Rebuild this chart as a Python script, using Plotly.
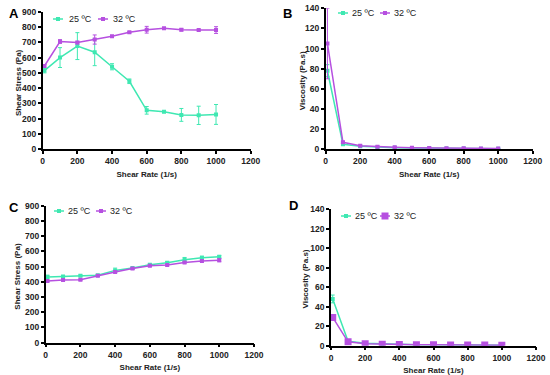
import plotly.graph_objects as go

shear_rate = [10, 100, 200, 300, 400, 500, 600, 700, 800, 900, 1000]

# Panel A: shear stress (Pa)
a_25 = [515, 600, 675, 635, 540, 445, 255, 245, 225, 222, 228]
a_25_err = [15, 65, 88, 88, 20, 15, 25, 5, 42, 60, 65]
a_32 = [545, 705, 698, 718, 740, 765, 782, 792, 782, 780, 780]
a_32_err = [8, 12, 8, 30, 5, 5, 22, 5, 8, 5, 22]

# Panel B: viscosity (Pa.s)
b_25 = [78, 5, 3, 2, 1.5, 1.2, 1.0, 0.8, 0.7, 0.6, 0.5]
b_25_err = [6, 1, 0.5, 0.3, 0.2, 0.1, 0.1, 0.1, 0.1, 0.1, 0.1]
b_32 = [105, 7, 3.5, 2.5, 2, 1.5, 1.3, 1.1, 1.0, 0.9, 0.8]
b_32_err = [35, 1, 0.5, 0.3, 0.2, 0.1, 0.1, 0.1, 0.1, 0.1, 0.1]

# Panel C: shear stress (Pa)
c_25 = [432, 435, 440, 443, 475, 490, 512, 525, 545, 558, 565]
c_25_err = [12, 5, 5, 5, 15, 5, 5, 8, 15, 10, 8]
c_32 = [405, 412, 413, 440, 465, 487, 505, 510, 527, 537, 542]
c_32_err = [5, 5, 5, 5, 5, 5, 5, 5, 5, 5, 10]

# Panel D: viscosity (Pa.s)
d_25 = [48, 4.5, 2.5, 1.8, 1.3, 1.0, 0.9, 0.8, 0.7, 0.6, 0.5]
d_25_err = [4, 0.5, 0.3, 0.2, 0.1, 0.1, 0.1, 0.1, 0.1, 0.1, 0.1]
d_32 = [29, 4, 2, 1.5, 1.2, 1.0, 0.9, 0.8, 0.7, 0.6, 0.5]
d_32_err = [2, 0.5, 0.3, 0.2, 0.1, 0.1, 0.1, 0.1, 0.1, 0.1, 0.1]

series_names = ["25 ºC", "32 ºC"]
panel_labels = ["A", "B", "C", "D"]
x_title = "Shear Rate (1/s)"
y_titles = ["Shear Stress (Pa)", "Viscosity (Pa.s)", "Shear Stress (Pa)", "Viscosity (Pa.s)"]

GREEN = "#3FE8B2"
PURPLE = "#B650E0"
FONT = "Liberation Sans, Arial, sans-serif"
W, H = 550, 375
OFF = 0  # body margin removed by post_script


def px(x):
    return (x - OFF) / W


def py(y):
    return 1 - (y - OFF) / H


panels = [
    (a_25, a_25_err, a_32, a_32_err, "x", "y", 4, 4),
    (b_25, b_25_err, b_32, b_32_err, "x2", "y2", 4, 4),
    (c_25, c_25_err, c_32, c_32_err, "x3", "y3", 4, 4),
    (d_25, d_25_err, d_32, d_32_err, "x4", "y4", 4, 7),
]

fig = go.Figure()
for (s25, e25, s32, e32, xa, ya, m25, m32) in panels:
    fig.add_trace(go.Scatter(
        x=shear_rate, y=s25, name=series_names[0], mode="lines+markers",
        line=dict(color=GREEN, width=1.5),
        marker=dict(symbol="square", size=m25, color=GREEN),
        error_y=dict(type="data", array=e25, color=GREEN, thickness=1, width=2),
        xaxis=xa, yaxis=ya, showlegend=False))
    fig.add_trace(go.Scatter(
        x=shear_rate, y=s32, name=series_names[1], mode="lines+markers",
        line=dict(color=PURPLE, width=1.5),
        marker=dict(symbol="square", size=m32, color=PURPLE),
        error_y=dict(type="data", array=e32, color=PURPLE, thickness=1, width=2),
        xaxis=xa, yaxis=ya, showlegend=False))

axis_common = dict(
    showline=True, linecolor="black", linewidth=1.5, ticks="outside",
    ticklen=3, tickwidth=1.5, tickcolor="black", showgrid=False, zeroline=False,
    automargin=False,
    tickfont=dict(family=FONT, size=8.5, color="#222", weight="bold"),
    title_font=dict(family=FONT, size=8, color="#222", weight="bold"),
)

# plot-area corners in page pixels: (x0, x1, ytop, ybottom)
areas = [(42.7, 250.7, 11.7, 149.3), (325.7, 532.7, 8.3, 149.3),
         (45.7, 254.0, 205.7, 342.7), (331.0, 536.0, 209.3, 345.7)]
yranges = [[0, 900], [0, 140], [0, 900], [0, 140]]
ydtick = [100, 20, 100, 20]
ytitle_x = [18.5, 302.5, 17.5, 305]

layout = dict(
    width=W, height=H, margin=dict(l=0, r=0, t=0, b=0),
    plot_bgcolor="white", paper_bgcolor="white",
    font=dict(family=FONT, color="#222"), showlegend=False,
)
for i, (x0, x1, yt, yb) in enumerate(areas):
    sfx = "" if i == 0 else str(i + 1)
    layout["xaxis" + sfx] = dict(
        axis_common, domain=[px(x0), px(x1)], range=[0, 1200], dtick=200,
        anchor="y" + sfx, title=dict(text=x_title, standoff=6))
    layout["yaxis" + sfx] = dict(
        axis_common, domain=[py(yb), py(yt)], range=yranges[i], dtick=ydtick[i],
        anchor="x" + sfx)
fig.update_layout(**layout)

for i, (x0, x1, yt, yb) in enumerate(areas):
    fig.add_annotation(text=y_titles[i], x=px(ytitle_x[i]), y=py((yt + yb) / 2 + 2),
                       xref="paper", yref="paper", showarrow=False, textangle=-90,
                       xanchor="center", yanchor="middle",
                       font=dict(family=FONT, size=8, color="#222", weight="bold"))

# manual compact legends (page pixel positions)
legend_pos = [
    (19, [(58, 67), (103, 111)], (4, 4)),
    (13, [(343, 350), (385, 392)], (4, 4)),
    (211, [(59, 66), (101, 108)], (4, 4)),
    (216, [(346, 353), (385, 392)], (4, 7)),
]
shapes = []
for (ly, items, msz) in legend_pos:
    for (cx, tx), col, name, ms in zip(items, [GREEN, PURPLE], series_names, msz):
        shapes.append(dict(type="line", xref="paper", yref="paper",
                           x0=px(cx - 5), x1=px(cx + 5), y0=py(ly), y1=py(ly),
                           line=dict(color=col, width=1.5)))
        shapes.append(dict(type="rect", xref="paper", yref="paper",
                           x0=px(cx - ms / 2), x1=px(cx + ms / 2),
                           y0=py(ly + ms / 2), y1=py(ly - ms / 2),
                           fillcolor=col, line=dict(width=0)))
        fig.add_annotation(text=name, x=px(tx), y=py(ly), xref="paper", yref="paper",
                           showarrow=False, xanchor="left", yanchor="middle",
                           font=dict(family=FONT, size=9, color="#222"))
fig.update_layout(shapes=shapes)

label_pos = [(7, 14), (281, 14), (7, 207.5), (287, 205.5)]
for lab, (lx, ly) in zip(panel_labels, label_pos):
    fig.add_annotation(text="<b>%s</b>" % lab, x=px(lx), y=py(ly), xref="paper", yref="paper",
                       showarrow=False, xanchor="left", yanchor="middle",
                       font=dict(family=FONT, size=13, color="black"))

fig.write_html("out.html", config={"displayModeBar": False},
               post_script="document.body.style.margin='0';")
